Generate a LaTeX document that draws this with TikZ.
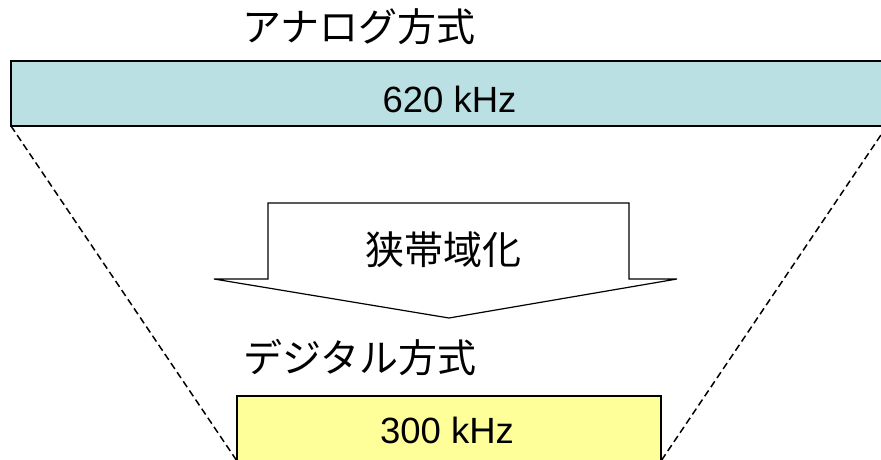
\documentclass[tikz,border=0pt]{standalone}
\usepackage{fontspec}
\setmainfont{Liberation Sans}
\newfontfamily\jp{Noto Sans CJK JP}
\usetikzlibrary{backgrounds}
\definecolor{analog}{HTML}{BBE0E3}
\definecolor{digital}{HTML}{FFFF99}
\tikzset{
  band/.style={draw=black, minimum height=65pt, inner sep=0pt, outer sep=0pt},
  freq/.style={font=\fontsize{36.5}{40}\selectfont, inner sep=0pt},
  title/.style={font=\jp\fontsize{39}{44}\selectfont, inner sep=0pt},
  guide/.style={draw=black, line width=1.5pt, dash pattern=on 7pt off 4pt},
}
\begin{document}
\begin{tikzpicture}[x=1pt,y=-1pt]
\useasboundingbox (0,0) rectangle (881,459);
\clip (0,0) rectangle (881,459);
\node[band, fill=analog, line width=2pt, minimum width=876pt] (top) at (449,93.5) {};
\node[band, fill=digital, line width=1.5pt, minimum width=424pt] (bot) at (449,428.5) {};
\node[freq] (f1) at (449.5,99.5) {620 kHz};
\node[freq] (f2) at (447,430.5) {300 kHz};
\node[title] (t1) at (359,27) {アナログ方式};
\node[title] (t2) at (360,357.5) {デジタル方式};
\begin{scope}[on background layer]
\draw[guide] (top.south west) -- (bot.south west);
\draw[guide] (top.south east) -- (bot.south east);
\end{scope}
\draw[line width=1.2pt, fill=white] (268,203) -- (629,203) -- (629,279) -- (677,279) -- (449,318) -- (214,279) -- (268,279) -- cycle;
\node[title, font=\jp\fontsize{39}{44}\selectfont] (nb) at (443.5,249.5) {狭帯域化};
\end{tikzpicture}
\end{document}
